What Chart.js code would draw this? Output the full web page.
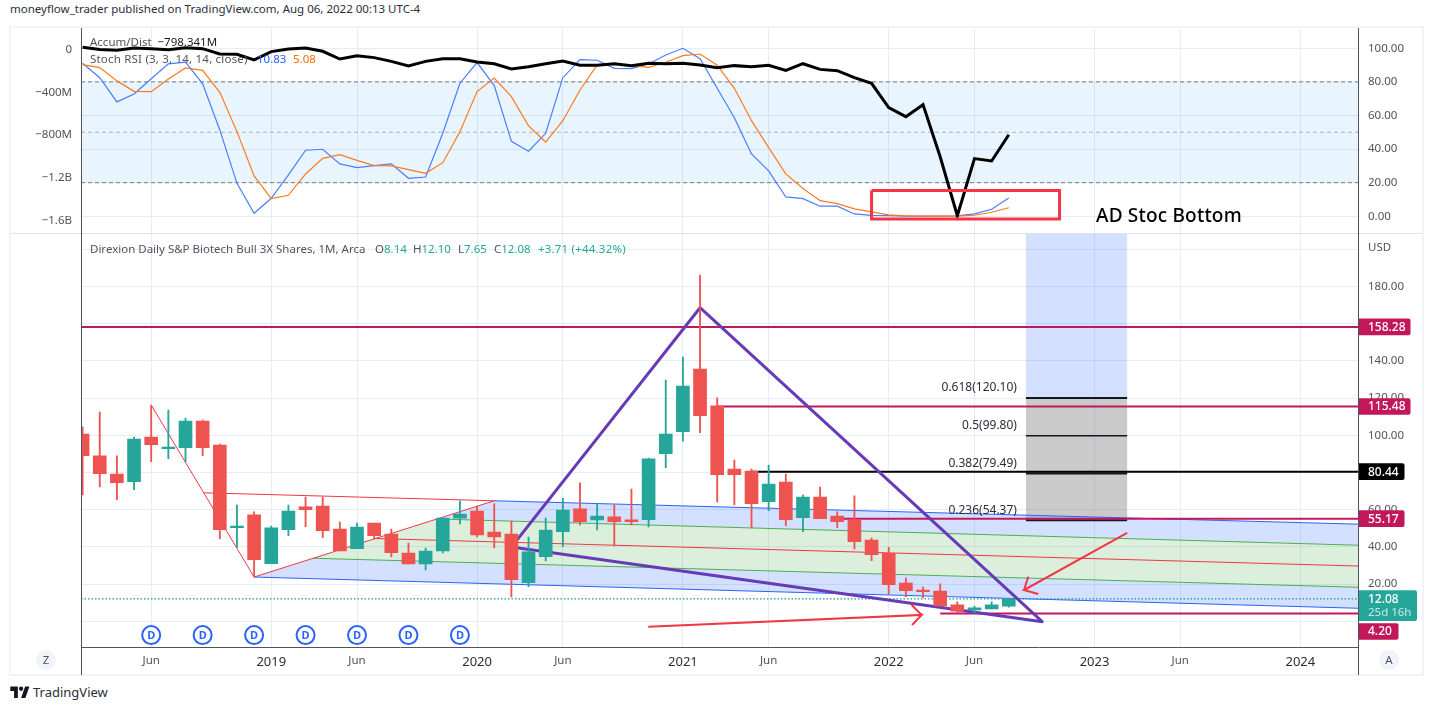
<!DOCTYPE html>
<html><head><meta charset="utf-8">
<script src="https://cdn.jsdelivr.net/npm/chart.js@4/dist/chart.umd.js"></script>
<style>
html,body{margin:0;padding:0;background:#fff;width:1432px;height:710px;overflow:hidden;font-family:"Noto Sans",sans-serif}
canvas{position:absolute;display:block}
.t{position:absolute;white-space:pre;line-height:16px;font-size:11.5px;color:#50535e;z-index:5}
.v{color:#26a69a}
.b{position:absolute;z-index:4}
.c{position:absolute;width:20px;height:20px;border-radius:50%;background:#f0f3fa;text-align:center;line-height:19px;font-size:11.5px;color:#50535e;z-index:5}
</style></head><body>
<div class="t" style="left:10px;top:1px;color:#2a2e39">moneyflow_trader published on TradingView.com, Aug 06, 2022 00:13 UTC-4</div>
<div class="b" style="left:9px;top:26px;width:1411px;height:646px;border:2px solid #f0f3fa"></div>
<div class="b" style="left:11px;top:232.5px;width:1411px;height:1px;background:#e0e3eb"></div>
<div class="b" style="left:80.5px;top:28px;width:1px;height:647px;background:#50535e"></div>
<div class="b" style="left:1358px;top:28px;width:1px;height:647px;background:#50535e"></div>
<canvas id="top" width="1412" height="205" style="left:10px;top:28px"></canvas>
<canvas id="main" width="1412" height="444" style="left:10px;top:233px"></canvas>
<div class="t" style="left:90px;top:34px">Accum/Dist  <span style="color:#131722">−798.341M</span></div>
<div class="t" style="left:90px;top:51px;letter-spacing:.2px">Stoch RSI (3, 3, 14, 14, close)</div>
<div class="t" style="left:257px;top:51px;color:#2962ff">10.83</div>
<div class="t" style="left:293px;top:51px;color:#ff6d00">5.08</div>
<div class="t" style="left:90px;top:241px">Direxion Daily S&amp;P Biotech Bull 3X Shares, 1M, Arca</div>
<div class="t" style="left:375px;top:241px">O<span class="v">8.14</span></div>
<div class="t" style="left:413px;top:241px">H<span class="v">12.10</span></div>
<div class="t" style="left:458px;top:241px">L<span class="v">7.65</span></div>
<div class="t" style="left:494px;top:241px">C<span class="v">12.08</span></div>
<div class="t v" style="left:538px;top:241px;letter-spacing:.2px;color:#26a69a">+3.71 (+44.32%)</div>
<div class="t" style="left:1368px;top:239px">USD</div>
<div class="t" style="left:1096px;top:203px;line-height:24px;font-size:19px;font-weight:500;letter-spacing:.2px;color:#000">AD Stoc Bottom</div>
<div class="c" style="left:36px;top:650px">Z</div>
<div class="c" style="left:1379px;top:650px">A</div>
<svg class="b" style="left:10px;top:685px" width="20" height="14" viewBox="0 0 36 26"><path fill="#131722" d="M14 24H7V11H0V3h14zM28 24h-8l7.5-21h8z"/><circle fill="#131722" cx="20" cy="7" r="4"/></svg>
<div class="t" style="left:33px;top:684px;font-size:13px;color:#2a2e39">TradingView</div>
<script>
// ---- candles: month index (0 = Jan 2018) ----
const months=[1,2,3,4,5,6,7,8,9,10,11,12,13,14,15,16,17,18,19,20,21,22,23,24,25,26,27,28,29,30,31,32,33,34,35,36,37,38,39,40,41,42,43,44,45,46,47,48,49,50,51,52,53,54,55];
const opens=[100.7,89.0,79.2,75.1,99.1,92.8,93.3,107.7,94.8,50.3,57.2,31.0,49.2,61.5,62.0,49.6,39.0,52.8,46.9,36.7,30.8,37.8,55.5,59.3,48.0,46.9,20.8,34.7,48.2,60.4,54.5,56.1,54.5,54.6,90.1,101.9,135.6,115.8,81.9,80.8,64.3,74.9,55.7,66.8,56.6,54.5,43.7,36.6,20.6,16.8,16.3,8.8,6.1,6.6,8.14];
const highs=[104.5,112.5,88.9,99.1,116.3,113.6,109.3,108.2,95.3,62.5,58.8,51.2,62.5,66.8,66.8,53.4,52.8,52.8,49.6,42.1,39.4,55.5,64.7,62.0,63.1,53.9,45.3,55.5,66.3,74.4,63.1,62.5,71.1,87.8,129.7,142.1,186.2,120.1,86.7,81.9,84.0,79.2,67.9,72.2,58.8,67.4,44.8,39.8,23.3,18.4,20.1,10.4,8.2,10.4,12.10];
const lows=[67.9,72.2,65.4,70.8,85.8,87.4,85.8,89.0,44.4,39.6,23.8,31.0,46.0,50.9,44.9,37.8,39.0,44.2,34.6,30.8,27.6,36.7,52.3,45.3,39.4,13.1,18.6,32.4,40.1,51.8,49.1,40.5,51.8,50.7,82.6,96.9,101.4,64.1,62.5,50.2,59.5,51.4,48.2,55.2,50.3,38.9,32.6,14.7,13.2,12.7,8.2,4.5,4.5,6.6,7.65];
const closes=[89.0,79.4,74.5,98.0,94.9,93.7,107.7,93.3,49.2,51.2,33.1,50.2,59.3,60.0,48.7,37.8,50.7,46.0,36.9,30.8,37.8,55.5,57.7,46.4,45.3,22.4,37.4,49.1,59.8,53.5,56.6,53.5,53.5,87.3,100.7,126.5,110.5,78.8,78.8,63.2,73.8,54.6,66.8,55.2,53.5,42.8,35.8,19.7,16.5,15.9,8.2,5.5,7.2,8.8,12.08];
// ---- indicators ----
const accumDist=[20,0,-8,14,8,-2,17,8,-42,-45,-98,-20,5,14,-17,-89,-58,-76,-111,-154,-111,-86,-86,-117,-133,-182,-161,-133,-108,-148,-148,-133,-151,-129,-133,-129,-145,-170,-151,-161,-148,-195,-133,-186,-198,-264,-316,-544,-628,-516,-1003,-1554,-1021,-1043,-798];
const stochK=[91.1,82.5,68.1,72.8,81.9,90.7,91.7,78.8,51.4,19.6,1.8,10.7,24.6,39.3,39.9,31.2,29.0,30.2,31.2,22.6,23.4,49.4,79.2,91.5,77.8,44.6,38.7,49.4,82.5,93.3,92.9,88.1,87.9,90.7,96.0,100,93.8,76.2,58.7,37.1,27.0,11.5,10.5,6.0,6.0,1.4,0.6,0.4,0.1,0.1,0.1,0.2,1.4,4.2,10.83];
const stochD=[90.3,88.5,80.6,74.4,74.2,81.7,88.3,86.9,73.8,50.4,24.0,10.5,12.5,25.2,34.5,36.7,33.3,30.2,30.0,27.8,25.6,31.9,50.4,74.2,82.3,71.2,53.8,44.2,56.9,75.2,90.1,91.1,89.7,88.7,91.7,95.6,96.6,89.9,76.2,56.9,40.9,25.2,16.5,9.3,7.5,4.4,2.6,0.8,0.2,0.1,0.1,0.1,0.6,2.4,5.08];
// ---- axes ----
const xStart=0.907, xEnd=75.39;
const xTicks=[5,12,17,24,29,36,41,48,53,60,65,72];
const xTickLabels=["Jun","2019","Jun","2020","Jun","2021","Jun","2022","Jun","2023","Jun","2024"];
const priceTicks=[0,20,40,60,80,100,120,140,160,180,200];
const stochTicks=[0,20,40,60,80,100];
const adTicks=[0,-400,-800,-1200,-1600];
const adTickLabels=["0","−400M","−800M","−1.2B","−1.6B"];
// ---- drawing levels and shapes (month index, price) ----
const dividendMonths=[5,8,11,14,17,20,23];
const dividendLevel=-7.4;
const lastPrice=12.08;
const rayStarts=[xStart,38,40,45,51];
const rayLevels=[158.28,115.48,80.44,55.17,4.20];
const rayTags=["158.28","115.48","80.44","55.17","4.20"];
const fibLevels=[120.10,99.80,79.49,54.37];
const fibNames=["0.618(120.10)","0.5(99.80)","0.382(79.49)","0.236(54.37)"];
const fibFrom=56.0, fibTo=61.9;
const triangle=[[26,39.9],[37,168.6],[56.95,-0.2],[26,39.9]];
const forkBase=[[8.02,69.1],[25,64.8],[11,23.8],[5,116.3]];
const forkOuterLow=[[11,23.8],[xEnd,7.0]];
const forkOuterHigh=[[25,64.8],[xEnd,52.2]];
const forkInnerLow=[[14.43,33.9],[xEnd,18.3]];
const forkInnerHigh=[[21.66,55.0],[xEnd,40.9]];
const forkMedian=[[18.05,44.5],[xEnd,29.7]];
const arrowLeft=[[49.34,8.8],[49.92,3.4],[49.36,-2.0],[49.92,3.4],[33.98,-2.9]];
const arrowRight=[[56.14,24.0],[55.89,16.8],[56.72,14.7],[55.89,16.8],[61.9,47.5]];
const boxStoch=[[47,15.4],[57.96,15.4],[57.96,-1.6],[47,-1.6],[47,15.4]];

const FONT='"Noto Sans", sans-serif';
const UP='#26a69a', DOWN='#ef5350', GRID='#e6edf4', INK='#50535e', CRIMSON='#c2185b', RED='#f23645', BLUE='#2962ff', GREEN='#4caf50', PURPLE='#673ab7';
const pts=a=>a.map(p=>({x:p[0],y:p[1]}));
const line=(a,color,width,order,extra)=>Object.assign({type:'line',data:pts(a),borderColor:color,borderWidth:width,pointRadius:0,tension:0,fill:false,order:order},extra||{});
const area=(a,color,order)=>({type:'line',data:pts(a),borderWidth:0,borderColor:'transparent',backgroundColor:color,pointRadius:0,tension:0,fill:'shape',order:order});
const hline=(v,color,width,order,extra,from)=>line([[from===undefined?xStart:from,v],[xEnd,v]],color,width,order,extra);
const zeroPad=s=>{s.paddingLeft=0;s.paddingRight=0;s.paddingTop=0;s.paddingBottom=0;};
const setTicks=vals=>s=>{s.ticks=vals.map(v=>({value:v}));};
const xAxis=(withLabels)=>({type:'linear',min:xStart,max:xEnd,offset:false,
  afterBuildTicks:setTicks(xTicks),
  afterFit:s=>{s.height=withLabels?30:0;zeroPad(s);},
  grid:{color:GRID,drawTicks:false,offset:false},
  border:{display:withLabels,color:INK},
  ticks:{display:withLabels,autoSkip:false,maxRotation:0,padding:7,
    callback:v=>xTickLabels[xTicks.indexOf(v)]||'',
    color:c=>/^\d/.test(xTickLabels[c.index])?'#2a2e39':INK,
    font:c=>({family:FONT,size:/^\d/.test(xTickLabels[c.index])?13:11.5})}});

new Chart(document.getElementById('top'),{type:'line',
 data:{datasets:[
  area([[xStart,80],[xEnd,80],[xEnd,20],[xStart,20]],'rgba(33,150,243,0.1)',20),
  hline(80,'#787b86',1,15,{borderDash:[4,3]}),
  hline(50,'rgba(120,123,134,0.55)',1,15,{borderDash:[4,3]}),
  hline(20,'#787b86',1,15,{borderDash:[4,3]}),
  line(months.map((m,i)=>[m,stochK[i]]),'#4a7dff',1.2,5),
  line(months.map((m,i)=>[m,stochD[i]]),'#ff7a1f',1.2,4),
  line(months.map((m,i)=>[m,accumDist[i]]),'#000000',3,2,{yAxisID:'ad',borderJoinStyle:'miter'}),
  line(boxStoch,RED,3,1,{borderJoinStyle:'miter'})
 ]},
 options:{responsive:false,animation:false,devicePixelRatio:1,layout:{padding:0,autoPadding:false},
  plugins:{legend:{display:false},tooltip:{enabled:false}},
  scales:{
   x:xAxis(false),
   y:{position:'right',min:-9.95,max:112.08,afterBuildTicks:setTicks(stochTicks),afterFit:s=>{s.width=63.5;zeroPad(s);},
      grid:{color:GRID,drawTicks:false},border:{display:false},
      ticks:{autoSkip:false,padding:9.5,color:INK,font:{family:FONT,size:11.5},callback:v=>v.toFixed(2)}},
   ad:{position:'left',min:-1716.6,max:201,afterBuildTicks:setTicks(adTicks),afterFit:s=>{s.width=71;zeroPad(s);},
      grid:{display:false,drawTicks:false},border:{display:false},
      ticks:{autoSkip:false,padding:9,color:INK,font:{family:FONT,size:11.5},callback:v=>adTickLabels[adTicks.indexOf(v)]}}
  }}});

const overlay={id:'overlay',afterDraw(ch){
  const c=ch.ctx,x=ch.scales.x,y=ch.scales.y,right=ch.chartArea.right;
  c.save();c.textBaseline='middle';
  c.font='12px '+FONT;c.fillStyle='#2a2e39';c.textAlign='right';
  fibLevels.forEach((v,i)=>c.fillText(fibNames[i],x.getPixelForValue(fibFrom)-9,y.getPixelForValue(v)-10));
  c.font='bold 11px '+FONT;c.fillStyle=BLUE;c.textAlign='center';
  dividendMonths.forEach(m=>c.fillText('D',x.getPixelForValue(m),y.getPixelForValue(dividendLevel)+0.5));
  const tag=(cy,h,w,bg)=>{c.fillStyle=bg;c.beginPath();c.roundRect(right,cy-h/2,w,h,[0,2,2,0]);c.fill();};
  c.textAlign='left';
  const tagColor=[CRIMSON,CRIMSON,'#000000',CRIMSON,CRIMSON];
  const tagWidth=[52,52,46,46,40];
  const tagShift=[0,0,0,0,18];
  rayLevels.forEach((v,i)=>{const cy=y.getPixelForValue(v)+tagShift[i];
    tag(cy,16.7,tagWidth[i],tagColor[i]);
    c.font='500 12px '+FONT;c.fillStyle='#fff';c.fillText(rayTags[i],right+9.5,cy+0.5);});
  const ly=y.getPixelForValue(lastPrice);
  c.fillStyle=UP;c.beginPath();c.roundRect(right,ly-8.5,58.5,30.7,[0,2,2,0]);c.fill();
  c.font='500 12px '+FONT;c.fillStyle='#fff';c.fillText(lastPrice.toFixed(2),right+9.5,ly+0.5);
  c.font='11.5px '+FONT;c.fillStyle='rgba(255,255,255,0.75)';c.fillText('25d 16h',right+9.5,ly+14);
  c.restore();
}};

const bodyColors=months.map((m,i)=>closes[i]>=opens[i]?UP:DOWN);
new Chart(document.getElementById('main'),{type:'bar',
 data:{datasets:[
  area([[fibFrom,120.10],[fibTo,120.10],[fibTo,260],[fibFrom,260]],'rgba(41,98,255,0.2)',30),
  area([[fibFrom,54.37],[fibTo,54.37],[fibTo,120.10],[fibFrom,120.10]],'rgba(128,128,128,0.42)',30),
  area([forkOuterLow[0],forkOuterLow[1],forkInnerLow[1],forkInnerLow[0]],'rgba(41,98,255,0.2)',29),
  area([forkInnerLow[0],forkInnerLow[1],forkInnerHigh[1],forkInnerHigh[0]],'rgba(76,175,80,0.2)',29),
  area([forkInnerHigh[0],forkInnerHigh[1],forkOuterHigh[1],forkOuterHigh[0]],'rgba(41,98,255,0.2)',29),
  line(forkOuterLow,BLUE,1,28),line(forkOuterHigh,BLUE,1,28),
  line(forkInnerLow,GREEN,1,28),line(forkInnerHigh,GREEN,1,28),
  line(forkMedian,RED,1,28),line(forkBase,RED,1,28),
  hline(lastPrice,'#149a8c',1.2,27,{borderDash:[1.5,2]}),
  ...fibLevels.map((v,i)=>line([[fibFrom,v],[fibTo,v]],'#131722',i===1?1.5:2,26)),
  ...rayLevels.map((v,i)=>hline(v,i===2?'#000000':CRIMSON,2,25,null,rayStarts[i])),
  line(triangle,PURPLE,3,24,{borderJoinStyle:'round'}),
  {type:'bar',data:months.map((m,i)=>({x:m,y:[lows[i],highs[i]]})),backgroundColor:bodyColors,barThickness:1.2,grouped:false,order:6,borderWidth:0},
  {type:'bar',data:months.map((m,i)=>({x:m,y:[opens[i],closes[i]]})),backgroundColor:bodyColors,barThickness:13,grouped:false,order:5,borderWidth:0},
  line(arrowLeft,RED,2,3),line(arrowRight,RED,2,3),
  {type:'line',data:dividendMonths.map(m=>({x:m,y:dividendLevel})),showLine:false,pointRadius:9,pointBorderWidth:2,pointBorderColor:BLUE,pointBackgroundColor:'#ffffff',order:2}
 ]},
 plugins:[overlay],
 options:{responsive:false,animation:false,devicePixelRatio:1,layout:{padding:{left:71},autoPadding:false},
  plugins:{legend:{display:false},tooltip:{enabled:false}},
  scales:{
   x:xAxis(true),
   y:{position:'right',min:-13.82,max:208.76,afterBuildTicks:setTicks(priceTicks),afterFit:s=>{s.width=63.5;zeroPad(s);},
      grid:{color:GRID,drawTicks:false},border:{display:false},
      ticks:{autoSkip:false,padding:9.5,color:INK,font:{family:FONT,size:11.5},callback:v=>(v>0&&v<200)?v.toFixed(2):''}}
  }}});
</script>
</body></html>
